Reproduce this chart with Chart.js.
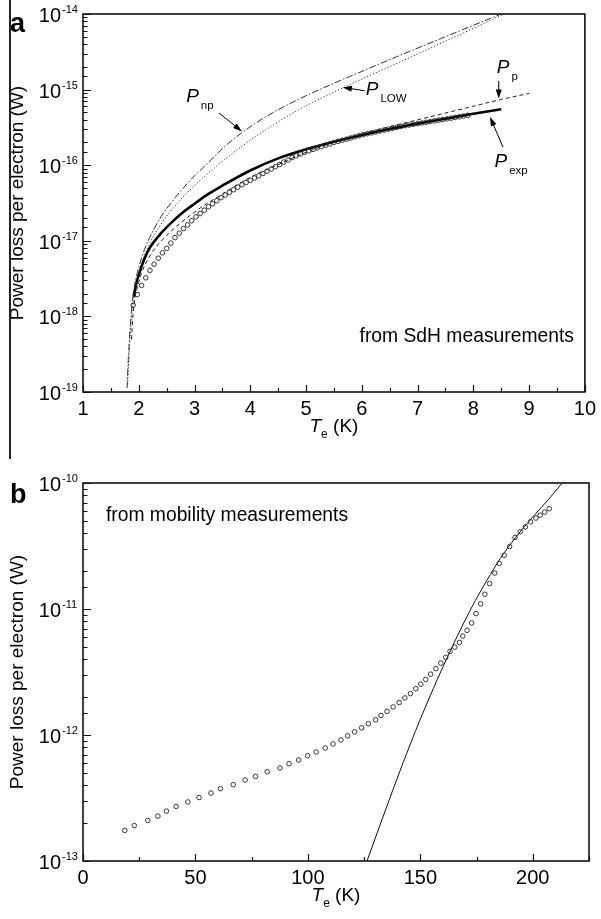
<!DOCTYPE html>
<html>
<head>
<meta charset="utf-8">
<script src="https://cdn.jsdelivr.net/npm/chart.js@4/dist/chart.umd.min.js"></script>
<style>
  html, body { margin: 0; padding: 0; background: #fff; }
  #wrap { position: relative; width: 601px; height: 919px; }
  #ca { position: absolute; left: 0; top: 0; }
  #cb { position: absolute; left: 0; top: 450px; }
  #rule { position: absolute; left: 9px; top: 0; width: 1.5px; height: 459px; background: #222; }
</style>
</head>
<body>
<div id="wrap">
  <canvas id="ca" width="601" height="450"></canvas>
  <canvas id="cb" width="601" height="469"></canvas>
  <div id="rule"></div>
</div>
<script>
// panel a: SdH data (circles) and model curves
const sdhT = [1.9, 1.975, 2.05, 2.125, 2.2, 2.275, 2.35, 2.425, 2.5, 2.575,
  2.65, 2.725, 2.8, 2.875, 2.95, 3.025, 3.1, 3.175, 3.25, 3.325,
  3.4, 3.475, 3.55, 3.625, 3.7, 3.775, 3.85, 3.925, 4.0, 4.075,
  4.15, 4.225, 4.3, 4.375, 4.45, 4.525, 4.6, 4.675, 4.75, 4.825,
  4.9, 4.975, 5.05, 5.125, 5.2, 5.275, 5.35, 5.425, 5.5, 5.575,
  5.65, 5.725, 5.8, 5.875, 5.95, 6.025, 6.1, 6.175, 6.25, 6.325,
  6.4, 6.475, 6.55, 6.625, 6.7, 6.775, 6.85, 6.925, 7.0, 7.075,
  7.15, 7.225, 7.3, 7.375, 7.45, 7.525, 7.6, 7.675, 7.75, 7.825, 7.9];
const sdhP = [1.41e-18, 1.95e-18, 2.57e-18, 3.24e-18, 4.07e-18, 4.90e-18, 5.89e-18, 6.92e-18, 7.94e-18, 9.33e-18,
  1.10e-17, 1.26e-17, 1.45e-17, 1.62e-17, 1.84e-17, 2.07e-17, 2.29e-17, 2.54e-17, 2.82e-17, 3.09e-17,
  3.39e-17, 3.72e-17, 4.03e-17, 4.37e-17, 4.73e-17, 5.13e-17, 5.50e-17, 5.89e-17, 6.31e-17, 6.76e-17,
  7.24e-17, 7.76e-17, 8.32e-17, 8.91e-17, 9.55e-17, 1.02e-16, 1.10e-16, 1.17e-16, 1.26e-16, 1.33e-16,
  1.41e-16, 1.48e-16, 1.55e-16, 1.62e-16, 1.70e-16, 1.76e-16, 1.84e-16, 1.91e-16, 2.00e-16, 2.07e-16,
  2.14e-16, 2.21e-16, 2.29e-16, 2.37e-16, 2.45e-16, 2.54e-16, 2.61e-16, 2.68e-16, 2.75e-16, 2.83e-16,
  2.91e-16, 2.99e-16, 3.08e-16, 3.16e-16, 3.25e-16, 3.33e-16, 3.40e-16, 3.48e-16, 3.55e-16, 3.62e-16,
  3.70e-16, 3.78e-16, 3.86e-16, 3.94e-16, 4.02e-16, 4.10e-16, 4.19e-16, 4.28e-16, 4.37e-16, 4.47e-16, 4.57e-16];

const expT = [1.91, 1.95, 2.0, 2.1, 2.2, 2.4, 2.6, 2.8, 3.0, 3.25, 3.5, 4.0, 4.5, 5.0, 5.5, 6.0, 6.5, 7.0, 7.5, 8.0, 8.5];
const expP = [1.82e-18, 2.63e-18, 3.55e-18, 5.75e-18, 8.13e-18, 1.26e-17, 1.78e-17, 2.40e-17, 3.09e-17, 4.17e-17, 5.37e-17,
  8.51e-17, 1.23e-16, 1.62e-16, 2.04e-16, 2.51e-16, 3.02e-16, 3.55e-16, 4.12e-16, 4.79e-16, 5.50e-16];

const ppT = [1.87, 1.9, 2.0, 2.2, 2.5, 3.0, 3.5, 4.0, 4.5, 5.0, 5.5, 6.0, 6.5, 7.0, 7.5, 8.0, 8.5, 9.0];
const ppP = [5.0e-19, 1.12e-18, 2.82e-18, 6.31e-18, 1.17e-17, 2.40e-17, 4.17e-17, 6.92e-17, 1.02e-16, 1.48e-16,
  2.00e-16, 2.57e-16, 3.24e-16, 3.98e-16, 4.90e-16, 6.03e-16, 7.41e-16, 8.91e-16];

const npT = [1.79, 1.81, 1.84, 1.87, 1.9, 1.95, 2.0, 2.1, 2.2, 2.4, 2.6, 2.8, 3.0, 3.2, 3.5, 3.85, 4.3, 4.86, 5.45, 6.0, 6.64, 7.5, 8.0, 8.5];
const npP = [1.12e-19, 2.51e-19, 6.03e-19, 1.20e-18, 1.91e-18, 3.16e-18, 4.47e-18, 7.59e-18, 1.12e-17, 2.09e-17, 3.31e-17, 5.01e-17,
  7.24e-17, 1.0e-16, 1.66e-16, 2.69e-16, 4.47e-16, 7.41e-16, 1.17e-15, 1.74e-15, 2.75e-15, 5.01e-15, 7.08e-15, 1.0e-14];

const lowT = [1.80, 1.83, 1.87, 1.9, 2.0, 2.2, 2.4, 2.6, 3.0, 3.4, 3.85, 4.3, 4.86, 5.45, 6.0, 6.64, 7.5, 8.0, 8.55];
const lowP = [1.26e-19, 3.55e-19, 1.0e-18, 1.58e-18, 3.80e-18, 9.33e-18, 1.66e-17, 2.63e-17, 5.37e-17, 9.77e-17,
  1.78e-16, 3.02e-16, 5.37e-16, 8.91e-16, 1.38e-15, 2.24e-15, 4.37e-15, 6.46e-15, 1.0e-14];

// panel b: mobility data (circles) and fitted curve
const mobT = [18.6, 22.8, 28.8, 33.3, 37.1, 41.4, 46.6, 51.6, 56.9, 61.1,
  66.8, 72.1, 76.7, 81.9, 87.6, 91.6, 95.9, 99.9, 103.7, 107.7,
  111.2, 114.7, 117.7, 120.8, 123.9, 126.9, 130.1, 132.5, 135.2, 137.9,
  140.6, 143.1, 145.6, 148.0, 150.2, 152.4, 154.6, 156.9, 159.1, 161.3,
  163.2, 165.3, 167.4, 168.9, 170.8, 172.8, 174.8, 176.8, 178.7, 180.8,
  183.1, 185.1, 187.3, 189.7, 192.1, 194.4, 196.7, 199.0, 201.4, 203.3, 205.3, 207.3];
const mobP = [1.75e-13, 1.91e-13, 2.10e-13, 2.27e-13, 2.49e-13, 2.71e-13, 2.94e-13, 3.19e-13, 3.46e-13, 3.75e-13,
  4.03e-13, 4.39e-13, 4.69e-13, 5.11e-13, 5.47e-13, 5.92e-13, 6.33e-13, 6.85e-13, 7.33e-13, 7.88e-13,
  8.49e-13, 9.14e-13, 9.84e-13, 1.06e-12, 1.14e-12, 1.23e-12, 1.32e-12, 1.43e-12, 1.54e-12, 1.67e-12,
  1.81e-12, 1.97e-12, 2.13e-12, 2.33e-12, 2.53e-12, 2.76e-12, 3.04e-12, 3.36e-12, 3.72e-12, 4.13e-12,
  4.61e-12, 4.99e-12, 5.43e-12, 6.10e-12, 6.77e-12, 7.74e-12, 9.19e-12, 1.10e-11, 1.31e-11, 1.59e-11,
  1.93e-11, 2.30e-11, 2.67e-11, 3.13e-11, 3.70e-11, 4.10e-11, 4.49e-11, 4.92e-11, 5.27e-11, 5.55e-11, 5.88e-11, 6.25e-11];

const fitT = [126.3, 134, 141.9, 147.8, 151.5, 157.5, 163.4, 169.3, 174.5, 179.7, 185.5, 191.6, 200.5, 207, 213.1];
const fitP = [1.0e-13, 2.40e-13, 5.75e-13, 1.07e-12, 1.55e-12, 2.75e-12, 4.68e-12, 7.76e-12, 1.17e-11, 1.70e-11,
  2.51e-11, 3.55e-11, 5.50e-11, 7.41e-11, 1.0e-10];

const FONT = "'Liberation Sans', Arial, sans-serif";

function pts(xs, ys) {
  return xs.map((x, i) => ({ x: x, y: ys[i] }));
}

function circles(xs, ys) {
  return { data: pts(xs, ys), showLine: false, pointStyle: 'circle', pointRadius: 2.3,
    borderColor: '#222', borderWidth: 0.9, backgroundColor: 'rgba(0,0,0,0)' };
}

function curve(xs, ys, width, dash, color) {
  return { data: pts(xs, ys), showLine: true, pointRadius: 0, borderWidth: width,
    borderDash: dash, borderColor: color, cubicInterpolationMode: 'monotone' };
}

function isMajor(v, step) {
  return Math.abs(v / step - Math.round(v / step)) < 1e-6;
}

// frame, inward ticks, 10^n labels and the T_e (K) title
function frame(xMajor) {
  return {
    id: 'frame',
    afterDraw(chart) {
      const ctx = chart.ctx, a = chart.chartArea;
      const sx = chart.scales.x, sy = chart.scales.y;
      ctx.save();
      ctx.strokeStyle = '#111';
      ctx.fillStyle = '#000';
      ctx.lineWidth = 1.6;
      ctx.strokeRect(a.left, a.top, a.right - a.left, a.bottom - a.top);

      ctx.lineWidth = 1.2;
      ctx.beginPath();
      sx.ticks.forEach(t => {
        const px = Math.round(sx.getPixelForValue(t.value)) + 0.5;
        ctx.moveTo(px, a.bottom);
        ctx.lineTo(px, a.bottom - (isMajor(t.value, xMajor) ? 7 : 4));
      });
      sy.ticks.forEach(t => {
        const py = Math.round(sy.getPixelForValue(t.value)) + 0.5;
        ctx.moveTo(a.left, py);
        ctx.lineTo(a.left + (isMajor(Math.log10(t.value), 1) ? 8 : 4.5), py);
      });
      ctx.stroke();

      ctx.textBaseline = 'alphabetic';
      sy.ticks.forEach(t => {
        const e = Math.log10(t.value);
        if (!isMajor(e, 1)) return;
        const py = sy.getPixelForValue(t.value);
        ctx.font = '20px ' + FONT;
        ctx.textAlign = 'right';
        ctx.fillText('10', a.left - 22, py + 8);
        ctx.font = '11px ' + FONT;
        ctx.textAlign = 'left';
        ctx.fillText('-' + Math.abs(Math.round(e)), a.left - 21, py - 1);
      });

      // x title: T_e (K)
      ctx.textAlign = 'left';
      const base = a.bottom + 40;
      ctx.font = 'italic 19px ' + FONT;
      const wT = ctx.measureText('T').width;
      ctx.font = '12px ' + FONT;
      const wE = ctx.measureText('e').width;
      ctx.font = '19px ' + FONT;
      const wK = ctx.measureText(' (K)').width;
      const x0 = (a.left + a.right) / 2 - (wT + wE + wK) / 2;
      ctx.font = 'italic 19px ' + FONT;
      ctx.fillText('T', x0, base);
      ctx.font = '12px ' + FONT;
      ctx.fillText('e', x0 + wT, base + 6);
      ctx.font = '19px ' + FONT;
      ctx.fillText(' (K)', x0 + wT + wE, base);
      ctx.restore();
    }
  };
}

function drawP(ctx, x, y, sub) {
  ctx.textAlign = 'left';
  ctx.textBaseline = 'alphabetic';
  ctx.font = 'italic 19px ' + FONT;
  ctx.fillText('P', x, y);
  const w = ctx.measureText('P').width;
  ctx.font = '11.5px ' + FONT;
  ctx.fillText(sub, x + w + 2, y + 7);
}

function arrow(ctx, x1, y1, x2, y2) {
  const ang = Math.atan2(y2 - y1, x2 - x1);
  const c = Math.cos(ang), s = Math.sin(ang);
  ctx.lineWidth = 1;
  ctx.beginPath();
  ctx.moveTo(x1, y1);
  ctx.lineTo(x2 - 6 * c, y2 - 6 * s);
  ctx.stroke();
  ctx.beginPath();
  ctx.moveTo(x2, y2);
  ctx.lineTo(x2 - 9 * c + 3 * s, y2 - 9 * s - 3 * c);
  ctx.lineTo(x2 - 9 * c - 3 * s, y2 - 9 * s + 3 * c);
  ctx.closePath();
  ctx.fill();
}

const notesA = {
  id: 'notesA',
  afterDraw(chart) {
    const ctx = chart.ctx, sx = chart.scales.x, sy = chart.scales.y;
    const X = v => sx.getPixelForValue(v), Y = v => sy.getPixelForValue(v);
    ctx.save();
    ctx.fillStyle = '#000';
    ctx.strokeStyle = '#000';
    drawP(ctx, X(2.85), Y(6.9e-16), 'np');
    arrow(ctx, X(3.44), Y(4.9e-16), X(3.85), Y(2.8e-16));
    drawP(ctx, X(6.07), Y(8.5e-16), 'LOW');
    arrow(ctx, X(6.05), Y(9.66e-16), X(5.66), Y(1.07e-15));
    drawP(ctx, X(8.42), Y(1.66e-15), 'p');
    arrow(ctx, X(8.455), Y(1.30e-15), X(8.455), Y(7.6e-16));
    drawP(ctx, X(8.38), Y(9.46e-17), 'exp');
    arrow(ctx, X(8.53), Y(1.74e-16), X(8.30), Y(4.35e-16));
    ctx.font = '19.3px ' + FONT;
    ctx.fillText('from SdH measurements', X(5.96), Y(4.6e-19));
    ctx.font = 'bold 27px ' + FONT;
    ctx.fillText('a', 10, 32);
    ctx.restore();
  }
};

const notesB = {
  id: 'notesB',
  afterDraw(chart) {
    const ctx = chart.ctx, sx = chart.scales.x, sy = chart.scales.y;
    ctx.save();
    ctx.fillStyle = '#000';
    ctx.textAlign = 'left';
    ctx.textBaseline = 'alphabetic';
    ctx.font = '19.3px ' + FONT;
    ctx.fillText('from mobility measurements', sx.getPixelForValue(10.2), sy.getPixelForValue(5.0e-11));
    ctx.font = 'bold 27px ' + FONT;
    ctx.fillText('b', 10, 53);
    ctx.restore();
  }
};

function options(xMin, xMax, xStep, xMajor, yMin, yMax, padTop) {
  return {
    responsive: false,
    animation: false,
    devicePixelRatio: 1,
    layout: { padding: { left: 0, top: padTop, right: 12, bottom: 18 } },
    plugins: { legend: { display: false }, tooltip: { enabled: false } },
    scales: {
      x: {
        type: 'linear', min: xMin, max: xMax,
        grid: { display: false, drawTicks: false }, border: { display: false },
        afterFit: s => { s.height = 40; },
        ticks: {
          stepSize: xStep, autoSkip: false, maxRotation: 0, padding: 5,
          color: '#000', font: { size: 20, family: FONT },
          callback: v => isMajor(v, xMajor) ? String(Math.round(v)) : ''
        }
      },
      y: {
        type: 'logarithmic', min: yMin, max: yMax,
        grid: { display: false, drawTicks: false }, border: { display: false },
        afterFit: s => { s.width = 83; },
        ticks: { display: false },
        title: {
          display: true, text: 'Power loss per electron (W)', color: '#000',
          font: { size: 19, family: FONT }, padding: { top: 6, bottom: 0 }
        }
      }
    }
  };
}

new Chart(document.getElementById('ca'), {
  type: 'scatter',
  data: {
    datasets: [
      circles(sdhT, sdhP),
      curve(npT, npP, 1, [7, 2, 1.5, 2], '#333'),
      curve(lowT, lowP, 1, [1.2, 2], '#333'),
      curve(ppT, ppP, 1, [4, 3], '#222'),
      curve(expT, expP, 2.6, [], '#000')
    ]
  },
  options: options(1, 10, 0.5, 1, 1e-19, 1e-14, 14),
  plugins: [frame(1), notesA]
});

new Chart(document.getElementById('cb'), {
  type: 'scatter',
  data: {
    datasets: [
      circles(mobT, mobP),
      curve(fitT, fitP, 1, [], '#111')
    ]
  },
  options: options(0, 225, 25, 50, 1e-13, 1e-10, 33),
  plugins: [frame(50), notesB]
});
</script>
</body>
</html>
